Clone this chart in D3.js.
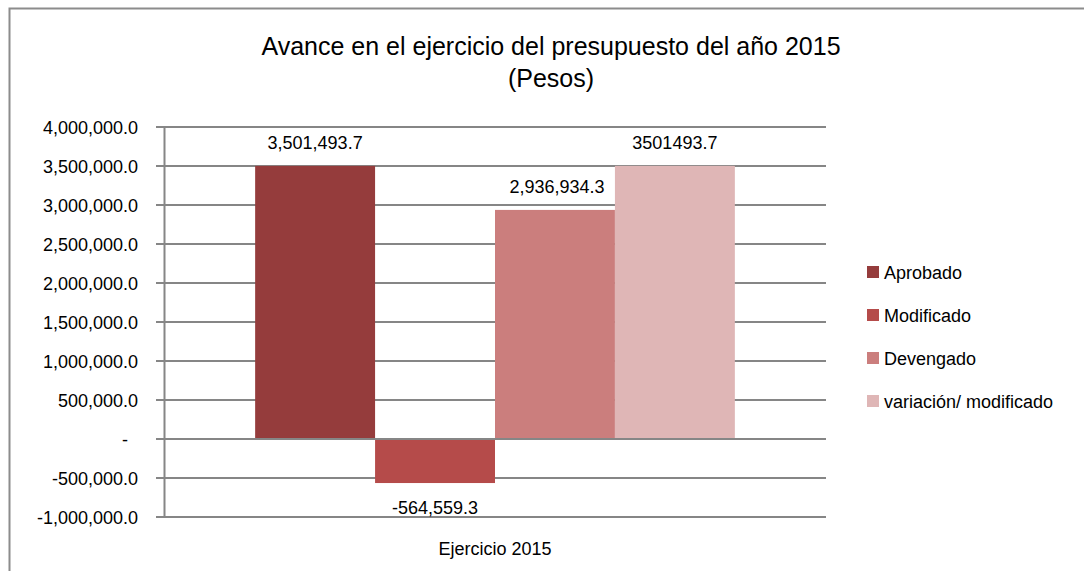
<!DOCTYPE html>
<html>
<head>
<meta charset="utf-8">
<script src="https://cdn.jsdelivr.net/npm/d3@7"></script>
<style>
  body { margin: 0; background: #fff; }
  text { font-family: "Liberation Sans Narrow", "Arial Narrow", "Liberation Sans", sans-serif; fill: #000; }
</style>
</head>
<body>
<script>
// datos del presupuesto 2015
var categoria = ["Ejercicio 2015"];
var series = ["Aprobado", "Modificado", "Devengado", "variación/ modificado"];
var valores = [3501493.7, -564559.3, 2936934.3, 3501493.7];
var etiquetas = ["3,501,493.7", "-564,559.3", "2,936,934.3", "3501493.7"];
var colores = ["#953c3c", "#b54b4a", "#cb7e7d", "#dfb6b6"];
var ticks = [-1000000, -500000, 0, 500000, 1000000, 1500000, 2000000, 2500000, 3000000, 3500000, 4000000];

var w = 1084, h = 571;
var pLeft = 164, pRight = 826, pTop = 127, pBottom = 517;

var svg = d3.select("body").append("svg")
    .attr("width", w)
    .attr("height", h);

// marco
svg.append("path")
    .attr("d", "M9.5," + h + "V8.5H" + w)
    .attr("fill", "none")
    .attr("stroke", "#8c8c8c")
    .attr("stroke-width", 2);

// titulo
svg.append("text").attr("x", 551).attr("y", 55)
    .attr("text-anchor", "middle").style("font-size", "25px")
    .text("Avance en el ejercicio del presupuesto del año 2015");
svg.append("text").attr("x", 551).attr("y", 87)
    .attr("text-anchor", "middle").style("font-size", "25px")
    .text("(Pesos)");

var y = d3.scaleLinear().domain([-1000000, 4000000]).range([pBottom, pTop]);
var x0 = d3.scaleBand().domain(categoria).range([pLeft, pRight]).paddingInner(0).paddingOuter(0.19);
var x1 = d3.scaleBand().domain(series).range([0, x0.bandwidth()]);

var loc = d3.formatLocale({ decimal: ".", thousands: ",", grouping: [3], currency: ["$", ""], minus: "-" });
var fmt = function(d) { return d == 0 ? "-" : loc.format(",.1f")(d); };

// lineas de division
svg.selectAll("line.grid")
    .data(ticks)
    .enter()
    .append("line")
    .attr("class", "grid")
    .attr("x1", pLeft - 8)
    .attr("x2", pRight)
    .attr("y1", function(d) { return y(d); })
    .attr("y2", function(d) { return y(d); })
    .attr("stroke", "#868686")
    .attr("stroke-width", 2);

// eje y
var yAxis = d3.axisLeft(y).tickValues(ticks).tickFormat(fmt).tickSize(0).tickPadding(26);
var gy = svg.append("g").attr("transform", "translate(" + pLeft + ",0)").call(yAxis);
gy.select(".domain").attr("stroke", "#868686").attr("stroke-width", 2);
gy.selectAll("text").style("font-size", "18px").attr("dy", "0.35em")
    .attr("font-family", null);
gy.selectAll("text").filter(function(d) { return d == 0; }).attr("dx", -10);

// barras
var g = svg.append("g").attr("transform", "translate(" + x0(categoria[0]) + ",0)");
g.selectAll("rect")
    .data(valores)
    .enter()
    .append("rect")
    .attr("x", function(d, i) { return x1(series[i]); })
    .attr("width", x1.bandwidth())
    .attr("y", function(d) { return y(Math.max(0, d)); })
    .attr("height", function(d) { return Math.abs(y(d) - y(0)); })
    .attr("fill", function(d, i) { return colores[i]; });

// eje cero encima
svg.append("line")
    .attr("x1", pLeft - 8).attr("x2", pRight)
    .attr("y1", y(0)).attr("y2", y(0))
    .attr("stroke", "#868686").attr("stroke-width", 2);

// etiquetas de datos
g.selectAll("text.lbl")
    .data(valores)
    .enter()
    .append("text")
    .attr("class", "lbl")
    .attr("x", function(d, i) { return x1(series[i]) + x1.bandwidth() / 2 + (i == 2 ? 2 : 0); })
    .attr("y", function(d) { return d < 0 ? y(d) + 31 : y(d) - 17; })
    .attr("text-anchor", "middle")
    .style("font-size", "18px")
    .text(function(d, i) { return etiquetas[i]; });

// eje x
svg.append("text").attr("x", (pLeft + pRight) / 2).attr("y", 555)
    .attr("text-anchor", "middle").style("font-size", "18px")
    .text(categoria[0]);

// leyenda
var leg = svg.selectAll("g.leg")
    .data(series)
    .enter()
    .append("g")
    .attr("class", "leg")
    .attr("transform", function(d, i) { return "translate(867," + (272 + i * 43) + ")"; });
leg.append("rect").attr("x", 0).attr("y", -6).attr("width", 12).attr("height", 12)
    .attr("fill", function(d, i) { return colores[i]; });
leg.append("text").attr("x", 17).attr("y", 7).style("font-size", "18px")
    .text(function(d) { return d; });
</script>
</body>
</html>
